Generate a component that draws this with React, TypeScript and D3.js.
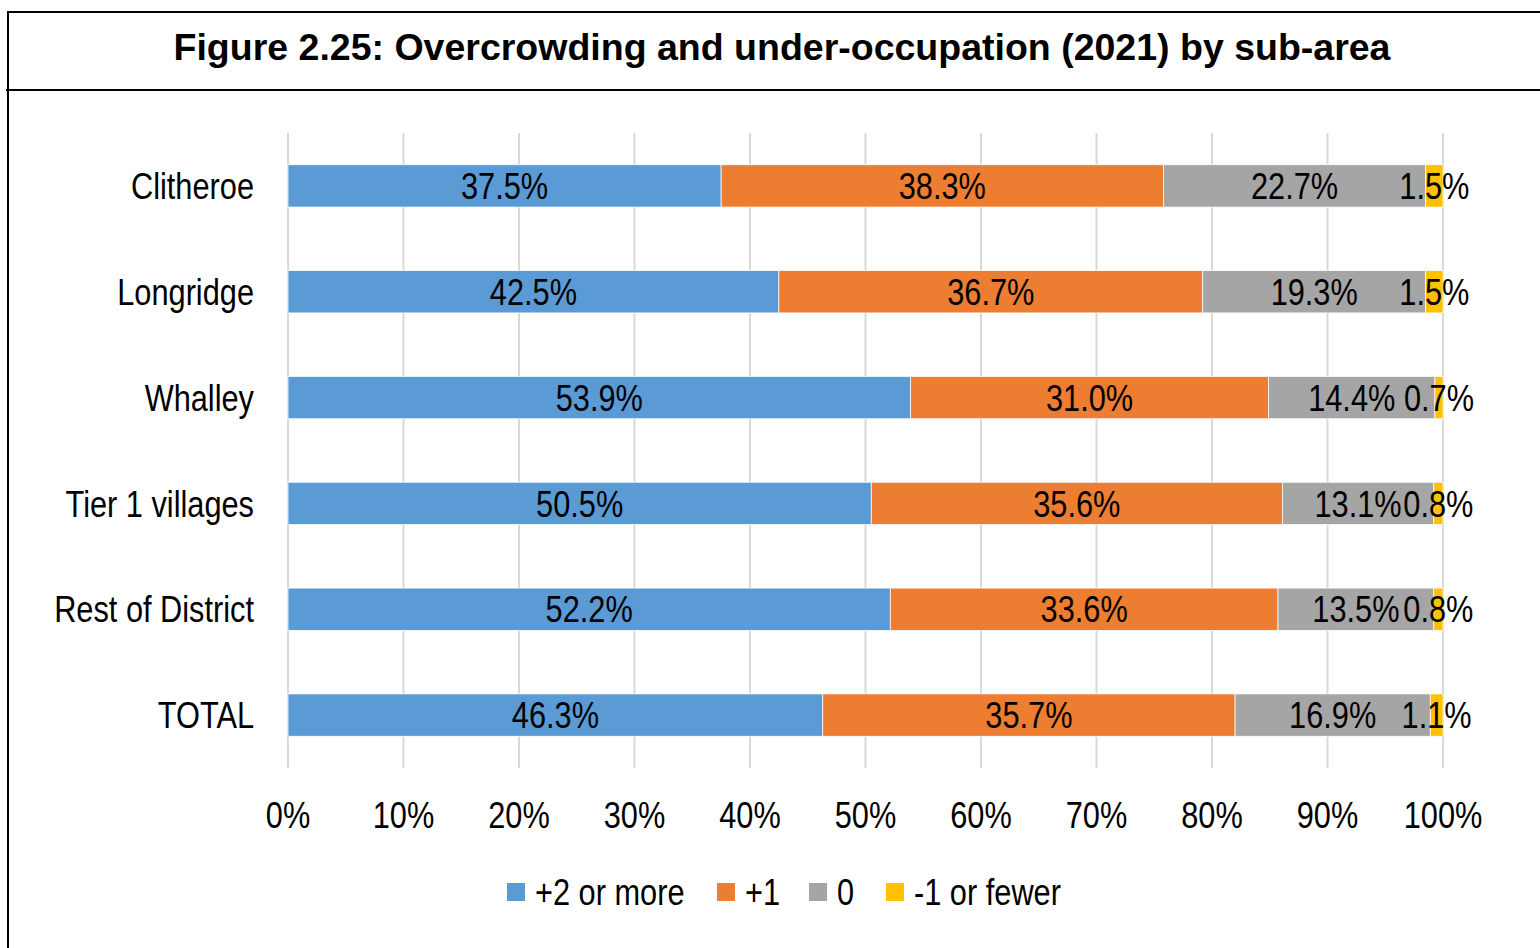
import React from "react";
import * as d3 from "d3";

const width = 1540;
const height = 948;
const margin = { top: 133, right: 98, bottom: 180, left: 288 };

const categories = ["Clitheroe", "Longridge", "Whalley", "Tier 1 villages", "Rest of District", "TOTAL"];
const seriesNames = ["+2 or more", "+1", "0", "-1 or fewer"];
const colors = ["#5B9BD5", "#ED7D31", "#A5A5A5", "#FFC000"];

const plusTwo = [37.5, 42.5, 53.9, 50.5, 52.2, 46.3];
const plusOne = [38.3, 36.7, 31.0, 35.6, 33.6, 35.7];
const zero = [22.7, 19.3, 14.4, 13.1, 13.5, 16.9];
const minusOne = [1.5, 1.5, 0.7, 0.8, 0.8, 1.1];

const ticks = [0, 10, 20, 30, 40, 50, 60, 70, 80, 90, 100];

// no Arial Narrow here, so squeeze Liberation Sans horizontally
const NARROW = 0.82;

const Narrow = ({ x, y, anchor = "start", children }: any) => (
  <g transform={`translate(${x},${y}) scale(${NARROW},1)`}>
    <text
      textAnchor={anchor}
      dominantBaseline="central"
      fontFamily="'Liberation Sans', Arial, sans-serif"
      fontSize={37.5}
    >
      {children}
    </text>
  </g>
);

const App = () => {
  const rows = categories.map((c, i) => ({
    cat: c,
    vals: [plusTwo[i], plusOne[i], zero[i], minusOne[i]]
  }));

  const innerH = height - margin.top - margin.bottom;

  const x = d3.scaleLinear().domain([0, 100]).range([0, 1155]);
  const y = d3
    .scaleBand()
    .domain(categories)
    .range([0, innerH])
    .paddingInner(0.6)
    .paddingOuter(0.3);

  // stacked segments, normalised to 100%
  const segs = rows.flatMap(r => {
    const total = d3.sum(r.vals);
    let acc = 0;
    return r.vals.map((v, k) => {
      const x0 = (acc / total) * 100;
      acc += v;
      const x1 = (acc / total) * 100;
      return { cat: r.cat, k, v, x0, x1 };
    });
  });

  const legendX = [507, 717, 809, 886];

  return (
    <svg width={width} height={height} style={{ display: "block", position: "absolute", left: 0, top: 0 }}>
      <rect width={width} height={height} fill="#fff" />
      {/* frame */}
      <line x1={8} x2={width} y1={12} y2={12} stroke="#000" strokeWidth={2} />
      <line x1={8} x2={8} y1={11} y2={height} stroke="#000" strokeWidth={2} />
      <line x1={6} x2={width} y1={90} y2={90} stroke="#000" strokeWidth={2} />
      <text
        x={782}
        y={47}
        textAnchor="middle"
        dominantBaseline="central"
        fontFamily="'Liberation Sans', Arial, sans-serif"
        fontWeight="bold"
        fontSize={37.5}
      >
        Figure 2.25: Overcrowding and under-occupation (2021) by sub-area
      </text>

      <g transform={`translate(${margin.left},${margin.top})`}>
        {ticks.map(t => (
          <g key={t}>
            <line x1={x(t)} x2={x(t)} y1={0} y2={innerH} stroke="#d9d9d9" strokeWidth={2} />
            <Narrow x={x(t)} y={innerH + 47} anchor="middle">
              {t}%
            </Narrow>
          </g>
        ))}
        {categories.map(c => (
          <Narrow key={c} x={-34} y={y(c)! + y.bandwidth() / 2} anchor="end">
            {c}
          </Narrow>
        ))}
        {segs.map((s, i) => (
          <rect
            key={i}
            x={x(s.x0)}
            y={y(s.cat)}
            width={x(s.x1) - x(s.x0)}
            height={y.bandwidth()}
            fill={colors[s.k]}
            stroke="#fff"
            strokeWidth={0.75}
          />
        ))}
        {segs.map((s, i) => (
          <Narrow key={"l" + i} x={(x(s.x0) + x(s.x1)) / 2} y={y(s.cat)! + y.bandwidth() / 2} anchor="middle">
            {s.v.toFixed(1)}%
          </Narrow>
        ))}
      </g>

      {seriesNames.map((n, i) => (
        <g key={n} transform={`translate(${legendX[i]},892)`}>
          <rect x={0} y={-9} width={18} height={18} fill={colors[i]} />
          <Narrow x={28} y={0}>
            {n}
          </Narrow>
        </g>
      ))}
    </svg>
  );
};

export default App;
